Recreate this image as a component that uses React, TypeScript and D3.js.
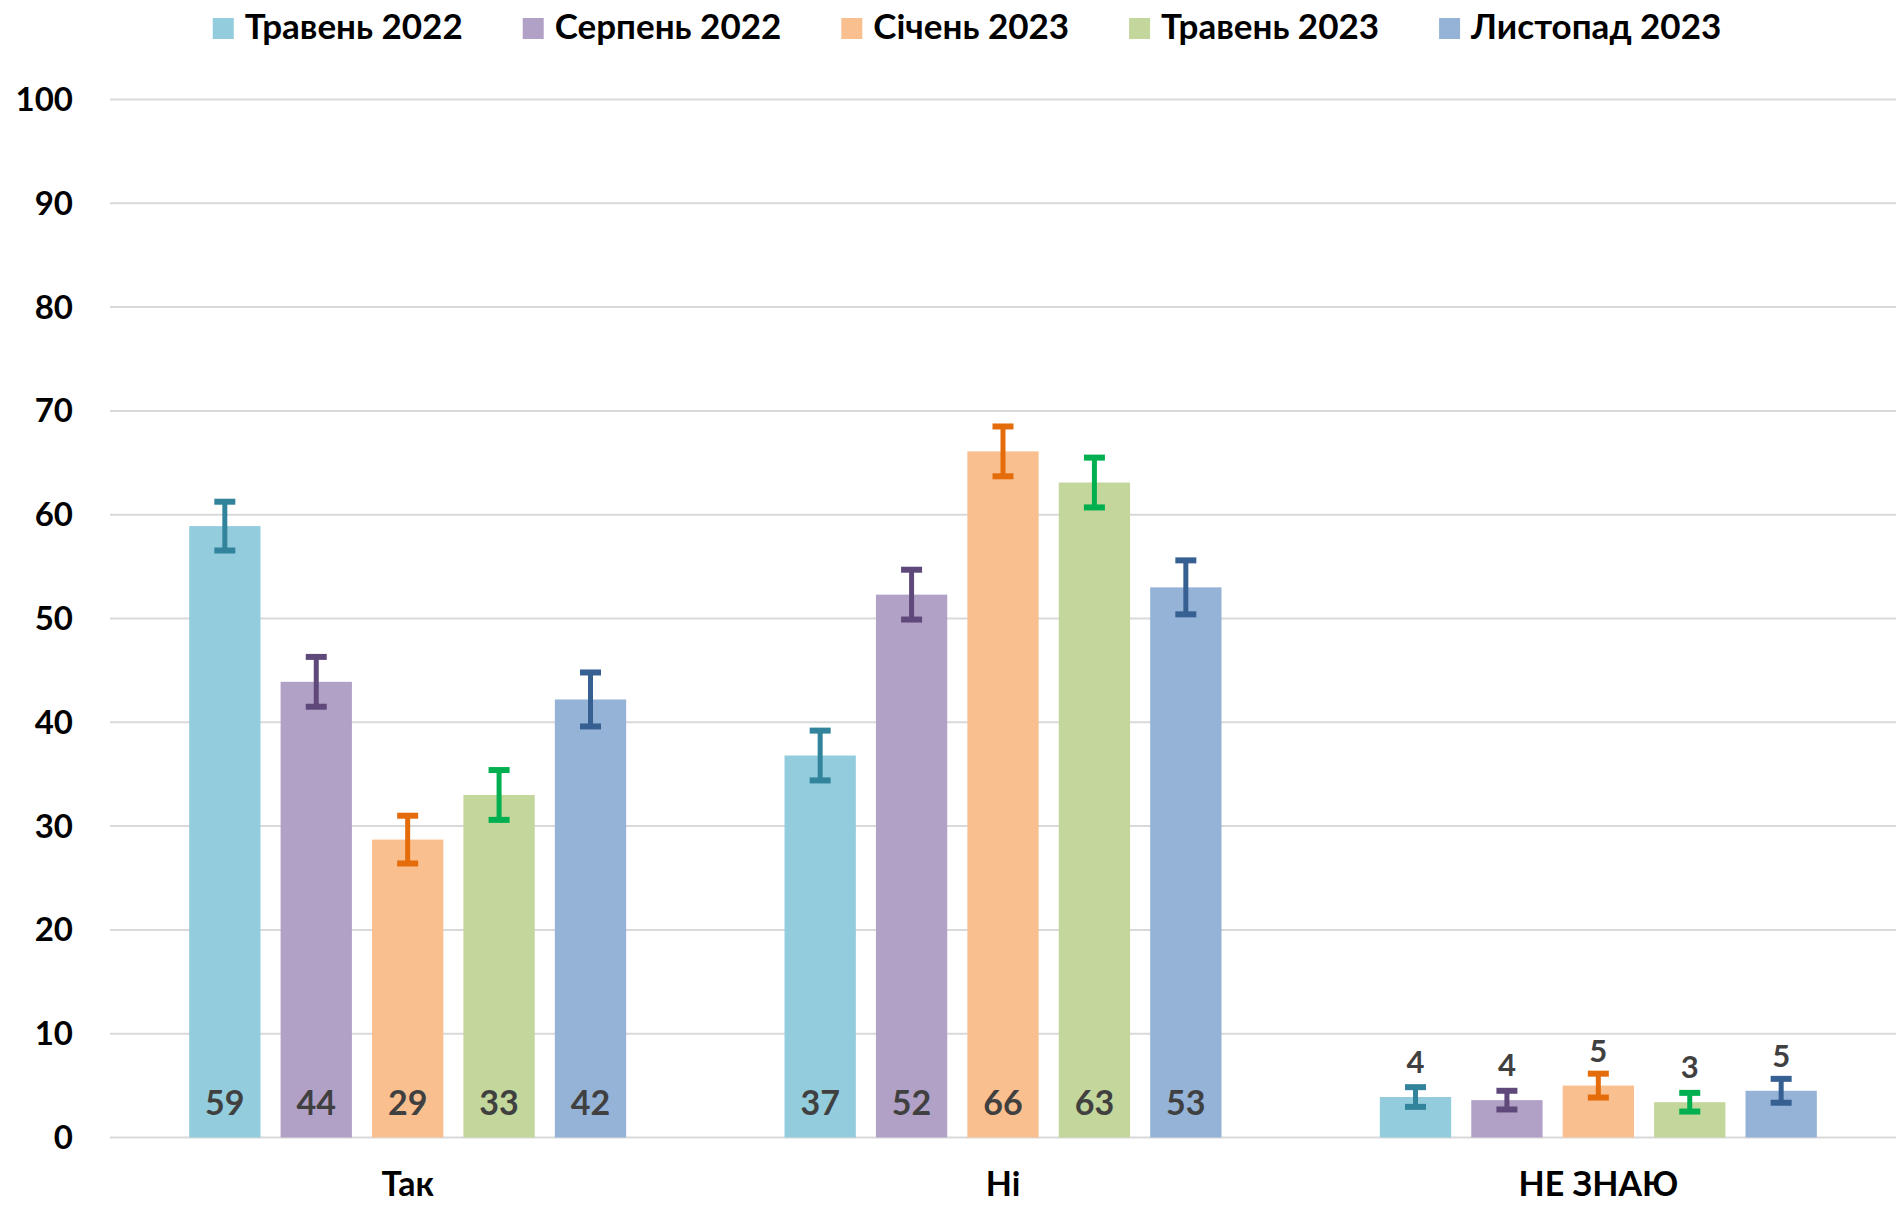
import React, { useEffect, useRef } from 'react';
import * as d3 from 'd3';

// values
const categories = ['Так', 'Ні', 'НЕ ЗНАЮ'];
const seriesNames = ['Травень 2022', 'Серпень 2022', 'Січень 2023', 'Травень 2023', 'Листопад 2023'];

const takValues = [58.9, 43.9, 28.7, 33.0, 42.2];
const niValues = [36.8, 52.3, 66.1, 63.1, 53.0];
const neZnayuValues = [3.9, 3.6, 5.0, 3.4, 4.5];

const takErrors = [2.35, 2.4, 2.3, 2.4, 2.6];
const niErrors = [2.4, 2.4, 2.4, 2.4, 2.6];
const neZnayuErrors = [0.95, 0.9, 1.15, 0.9, 1.15];

const yTicks = [0, 10, 20, 30, 40, 50, 60, 70, 80, 90, 100];

const barColors = ['#93CCDC', '#B1A1C7', '#F9BF8F', '#C3D69B', '#95B3D7'];
const errorColors = ['#31849B', '#5F497A', '#E46C0A', '#00B050', '#376092'];

const W = 1896;
const H = 1205;
const FONT = 'Lato, "Open Sans", sans-serif';

const draw = (node) => {
	const svg = d3.select(node);
	svg.selectAll('*').remove();

	const rows = [
		{ cat: categories[0], values: takValues, errors: takErrors },
		{ cat: categories[1], values: niValues, errors: niErrors },
		{ cat: categories[2], values: neZnayuValues, errors: neZnayuErrors },
	];

	const left = 110, right = W, top = 99.5, bottom = 1137.5;

	const x0 = d3.scaleBand().domain(categories).range([left, right])
		.paddingInner(0.266).paddingOuter(0.133);
	const x1 = d3.scaleBand().domain(seriesNames).range([0, x0.bandwidth()])
		.paddingInner(0.22).paddingOuter(0);
	const y = d3.scaleLinear().domain([0, 100]).range([bottom, top]);

	svg.append('rect').attr('width', W).attr('height', H).attr('fill', '#fff');

	// gridlines
	svg.append('g').selectAll('line')
		.data(yTicks)
		.enter().append('line')
		.attr('x1', left).attr('x2', right)
		.attr('y1', d => y(d)).attr('y2', d => y(d))
		.attr('stroke', '#D9D9D9').attr('stroke-width', 2);

	// y tick labels
	svg.append('g').selectAll('text')
		.data(yTicks)
		.enter().append('text')
		.attr('x', 73).attr('y', d => y(d) + 11.5)
		.attr('text-anchor', 'end')
		.attr('font-family', FONT).attr('font-weight', 700).attr('font-size', 33)
		.attr('fill', '#000')
		.text(d => d);

	// bars, error bars, value labels
	const groups = svg.append('g').selectAll('g')
		.data(rows)
		.enter().append('g')
		.attr('transform', d => 'translate(' + x0(d.cat) + ',0)');

	const items = groups.selectAll('g')
		.data(d => d.values.map((v, i) => ({ v, e: d.errors[i], i, name: seriesNames[i] })))
		.enter().append('g');

	items.append('rect')
		.attr('x', d => x1(d.name))
		.attr('width', x1.bandwidth())
		.attr('y', d => y(d.v))
		.attr('height', d => y(0) - y(d.v))
		.attr('fill', d => barColors[d.i]);

	const cx = d => x1(d.name) + x1.bandwidth() / 2;

	items.append('line')
		.attr('x1', cx).attr('x2', cx)
		.attr('y1', d => y(d.v + d.e)).attr('y2', d => y(d.v - d.e))
		.attr('stroke', d => errorColors[d.i]).attr('stroke-width', 5);

	[1, -1].forEach(s => {
		items.append('line')
			.attr('x1', d => cx(d) - 10.5).attr('x2', d => cx(d) + 10.5)
			.attr('y1', d => y(d.v + s * d.e)).attr('y2', d => y(d.v + s * d.e))
			.attr('stroke', d => errorColors[d.i]).attr('stroke-width', 6);
	});

	items.append('text')
		.attr('x', cx)
		.attr('y', d => d.v < 10 ? y(d.v) - 24 : y(0) - 22.5)
		.attr('text-anchor', 'middle')
		.attr('font-family', FONT).attr('font-weight', 700)
		.attr('font-size', d => d.v < 10 ? 31 : 34)
		.attr('fill', '#404040')
		.text(d => Math.round(d.v));

	// category labels
	svg.append('g').selectAll('text')
		.data(categories)
		.enter().append('text')
		.attr('x', d => x0(d) + x0.bandwidth() / 2)
		.attr('y', 1196)
		.attr('text-anchor', 'middle')
		.attr('font-family', FONT).attr('font-weight', 700).attr('font-size', 34)
		.attr('fill', '#000')
		.text(d => d);

	// legend
	const legend = svg.append('g');
	const entries = legend.selectAll('g')
		.data(seriesNames)
		.enter().append('g');
	entries.append('rect')
		.attr('width', 21).attr('height', 21).attr('y', 18)
		.attr('fill', (d, i) => barColors[i]);
	entries.append('text')
		.attr('x', 32).attr('y', 39)
		.attr('font-family', FONT).attr('font-weight', 700).attr('font-size', 35)
		.attr('fill', '#000')
		.text(d => d);

	let pos = 0;
	const gap = 60;
	entries.each(function () {
		const w = 32 + this.querySelector('text').getComputedTextLength();
		d3.select(this).attr('transform', 'translate(' + pos + ',0)');
		pos += w + gap;
	});
	const total = pos - gap;
	legend.attr('transform', 'translate(' + (967 - total / 2) + ',0)');
}

const App = () => {
	const ref = useRef(null);
	useEffect(() => {
		draw(ref.current);
	}, []);
	return (
		<div style={{ position: 'absolute', left: 0, top: 0 }}>
			<svg ref={ref} width={W} height={H} style={{ display: 'block' }} />
		</div>
	);
}

export default App;
